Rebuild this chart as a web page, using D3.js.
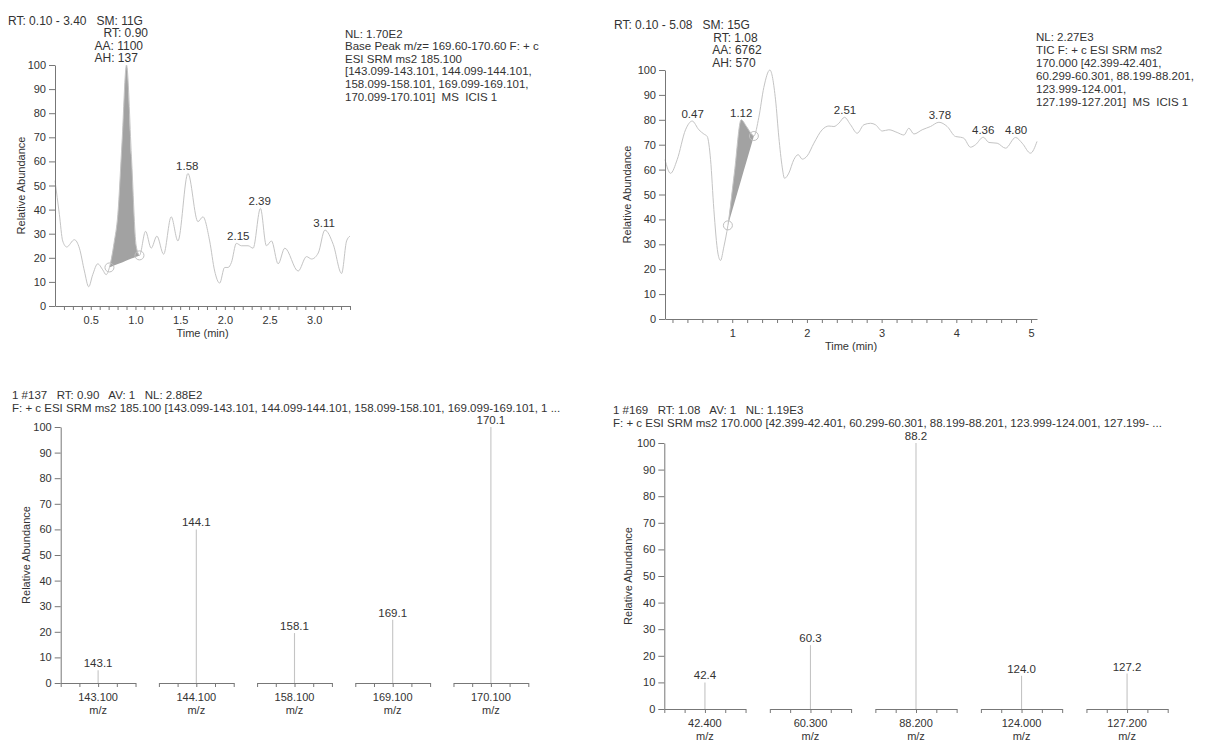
<!DOCTYPE html>
<html>
<head>
<meta charset="utf-8">
<script src="https://cdn.jsdelivr.net/npm/d3@7"></script>
<style>
  body { margin: 0; background: #fff; }
  svg { font-family: "Liberation Sans", Arial, sans-serif; }
  text { fill: #333; white-space: pre; font-size: 11.5px; }
  .axis text { font-size: 11px; fill: #333; font-family: "Liberation Sans", Arial, sans-serif; }
  .axis path, .axis line { stroke: #777; }
</style>
</head>
<body>
<svg id="fig" width="1211" height="742"></svg>
<script>
// ---- chromatogram A (top left) ----
const chromA_rt = [0.10,0.149,0.186,0.231,0.317,0.373,0.429,0.477,0.522,0.578,0.634,0.672,0.709,0.760,0.803,0.850,0.900,0.955,1.008,1.045,1.113,1.176,1.240,1.315,1.400,1.475,1.587,1.699,1.755,1.830,1.886,1.942,1.998,2.036,2.073,2.129,2.185,2.260,2.316,2.398,2.465,2.522,2.596,2.671,2.820,2.914,2.970,3.045,3.119,3.213,3.306,3.362,3.400]
const chromA_ab = [52,38,27,24.5,27.5,24,14.5,8,13,17.5,15,13,16,26,38,68,100,62,25,21,31,24,29,21.5,37,27,55,35,37,27,14.5,9.5,16,16,18,26,25,25,24,40.5,25,27,17.5,24,14.5,20.5,19.5,22,31.5,25.5,13.5,27,29]
const chromA_integ = [0.709, 1.045]
const chromA_peakRT = [1.58, 2.15, 2.39, 3.11]
const chromA_peakAb = [55, 26, 40.5, 31.5]
const chromA_header = 'RT: 0.10 - 3.40   SM: 11G'
const chromA_apex = ['RT: 0.90', 'AA: 1100', 'AH: 137']
const chromA_info = ['NL: 1.70E2', 'Base Peak m/z= 169.60-170.60 F: + c', 'ESI SRM ms2 185.100',
  '[143.099-143.101, 144.099-144.101,', '158.099-158.101, 169.099-169.101,', '170.099-170.101]  MS  ICIS 1']

// ---- chromatogram B (top right) ----
const chromB_rt = [0.10,0.174,0.263,0.375,0.464,0.553,0.620,0.665,0.710,0.754,0.808,0.843,0.888,0.942,1.030,1.120,1.191,1.267,1.290,1.356,1.423,1.504,1.580,1.624,1.669,1.700,1.758,1.825,1.883,1.937,2.004,2.093,2.204,2.294,2.361,2.427,2.503,2.584,2.673,2.762,2.852,2.918,3.008,3.097,3.208,3.298,3.365,3.432,3.543,3.654,3.767,3.878,3.989,4.056,4.101,4.190,4.257,4.360,4.436,4.547,4.659,4.793,4.882,4.993,5.080]
const chromB_ab = [64,58.5,64,76,79.5,76,74.3,73.3,64,44,26.5,23.5,29,37.6,59,80,77.3,74,73.5,81,93,100,88,73,61,56.5,58.6,64,66,64.2,65.5,70.6,76,77.5,77.3,78.6,81,78,74.6,78,78.6,78,75.5,76,74.9,73.9,76.6,74.3,76,77.3,79,77.3,73.3,73,72.6,69,70,73,70.9,70.6,68.6,72.9,70.6,66.6,71.3]
const chromB_integ = [0.942, 1.29]
const chromB_peakRT = [0.47, 1.12, 2.51, 3.78, 4.36, 4.80]
const chromB_peakAb = [79.5, 80, 81, 79, 73, 72.9]
const chromB_header = 'RT: 0.10 - 5.08   SM: 15G'
const chromB_apex = ['RT: 1.08', 'AA: 6762', 'AH: 570']
const chromB_info = ['NL: 2.27E3', 'TIC F: + c ESI SRM ms2', '170.000 [42.399-42.401,',
  '60.299-60.301, 88.199-88.201,', '123.999-124.001,', '127.199-127.201]  MS  ICIS 1']

// ---- spectrum A (bottom left) ----
const specA_mz = ['143.100', '144.100', '158.100', '169.100', '170.100']
const specA_label = ['143.1', '144.1', '158.1', '169.1', '170.1']
const specA_ab = [5, 60, 19.5, 24.7, 100]
const specA_title = ['1 #137   RT: 0.90   AV: 1   NL: 2.88E2',
  'F: + c ESI SRM ms2 185.100 [143.099-143.101, 144.099-144.101, 158.099-158.101, 169.099-169.101, 1 ...']

// ---- spectrum B (bottom right) ----
const specB_mz = ['42.400', '60.300', '88.200', '124.000', '127.200']
const specB_label = ['42.4', '60.3', '88.2', '124.0', '127.2']
const specB_ab = [10, 24, 100, 12.5, 13.3]
const specB_title = ['1 #169   RT: 1.08   AV: 1   NL: 1.19E3',
  'F: + c ESI SRM ms2 170.000 [42.399-42.401, 60.299-60.301, 88.199-88.201, 123.999-124.001, 127.199- ...']

const svg = d3.select('#fig')
const curveCol = '#c4c4c4'

function yLabel(g, x, y) {
  g.append('text').attr('transform', `translate(${x},${y}) rotate(-90)`)
    .attr('text-anchor', 'middle').attr('dy', '0.35em').style('font-size', '11px')
    .text('Relative Abundance')
}

function drawChrom(cfg) {
  const g = svg.append('g')
  const x = d3.scaleLinear().domain(cfg.domain).range([cfg.left, cfg.right])
  const y = d3.scaleLinear().domain([0, 100]).range([cfg.bottom, cfg.top])
  const pts = cfg.rt.map((t, i) => ({t: t, v: cfg.ab[i]}))

  // integrated peak, filled down to the straight baseline
  const pk = pts.filter(d => d.t >= cfg.integ[0] && d.t <= cfg.integ[1])
  const a = pk[0], b = pk[pk.length - 1]
  const base = t => a.v + (b.v - a.v) * (t - a.t) / (b.t - a.t)
  const area = d3.area().x(d => x(d.t)).y0(d => y(base(d.t))).y1(d => y(d.v)).curve(d3.curveMonotoneX)
  g.append('path').datum(pk).attr('d', area).attr('fill', '#a2a2a2')

  const line = d3.line().x(d => x(d.t)).y(d => y(d.v)).curve(d3.curveMonotoneX)
  g.append('path').datum(pts).attr('d', line).attr('fill', 'none').attr('stroke', curveCol).attr('stroke-width', 1)

  g.selectAll('circle.end').data([a, b]).enter().append('circle')
    .attr('cx', d => x(d.t)).attr('cy', d => y(d.v)).attr('r', 4.5)
    .attr('fill', 'none').attr('stroke', '#c0c0c0')

  // axes
  g.append('g').attr('class', 'axis').attr('transform', `translate(${cfg.left},0)`)
    .call(d3.axisLeft(y).tickValues(d3.range(0, 101, 10)).tickSize(6).tickSizeOuter(0).tickPadding(3))
  g.append('g').attr('class', 'axis').attr('transform', `translate(0,${cfg.bottom})`)
    .call(d3.axisBottom(x).tickValues(cfg.xTicks).tickSize(4).tickSizeOuter(0).tickPadding(6)
      .tickFormat(d => cfg.isMajor(d) ? cfg.fmt(d) : ''))
  g.selectAll('.axis').attr('font-family', null).attr('font-size', null)

  g.append('text').attr('x', (cfg.left + cfg.right) / 2).attr('y', cfg.bottom + 31)
    .attr('text-anchor', 'middle').style('font-size', '11px').text('Time (min)')
  yLabel(g, cfg.yLabelX, (cfg.top + cfg.bottom) / 2)

  // peak labels
  g.selectAll('text.pk').data(cfg.peakRT).enter().append('text')
    .attr('x', d => x(d)).attr('y', (d, i) => y(cfg.peakAb[i]) - 3)
    .attr('text-anchor', 'middle').text(d => d.toFixed(2))

  // header and apex annotation
  g.append('text').attr('x', cfg.headX).attr('y', cfg.headY).style('font-size', '12px').text(cfg.header)
  g.selectAll('text.apex').data(cfg.apex).enter().append('text')
    .attr('x', (d, i) => x(cfg.apexRT) + cfg.apexDx[i]).attr('y', (d, i) => cfg.headY + 12.5 * (i + 1))
    .style('font-size', '12px').text(d => d)
  g.selectAll('text.info').data(cfg.info).enter().append('text')
    .attr('x', cfg.infoX).attr('y', (d, i) => cfg.infoY + cfg.infoStep * i)
    .text(d => d)
}

function drawSpec(cfg) {
  const g = svg.append('g')
  const x = d3.scaleBand().domain(cfg.mz).range([cfg.left, cfg.right]).paddingInner(cfg.gap)
  const y = d3.scaleLinear().domain([0, 100]).range([cfg.bottom, cfg.top])
  const bw = x.bandwidth()

  g.append('g').attr('class', 'axis').attr('transform', `translate(${cfg.left},0)`)
    .call(d3.axisLeft(y).tickValues(d3.range(0, 101, 10)).tickSize(6).tickSizeOuter(0).tickPadding(3))

  // one short m/z axis per selected ion
  cfg.mz.forEach(m => {
    const seg = d3.scaleLinear().domain([0, 4]).range([x(m), x(m) + bw])
    g.append('g').attr('class', 'axis').attr('transform', `translate(0,${cfg.bottom})`)
      .call(d3.axisBottom(seg).tickValues([0, 1, 2, 3, 4]).tickSize(4).tickSizeOuter(0).tickFormat(''))
  })
  g.selectAll('.axis').attr('font-family', null).attr('font-size', null)

  g.selectAll('line.stick').data(cfg.mz).enter().append('line')
    .attr('x1', d => x(d) + bw / 2).attr('x2', d => x(d) + bw / 2)
    .attr('y1', y(0)).attr('y2', (d, i) => y(cfg.ab[i]))
    .attr('stroke', curveCol).attr('stroke-width', 1.1)

  g.selectAll('text.val').data(cfg.label).enter().append('text')
    .attr('x', (d, i) => x(cfg.mz[i]) + bw / 2).attr('y', (d, i) => y(cfg.ab[i]) - 3)
    .attr('text-anchor', 'middle').text(d => d)

  g.selectAll('text.mz').data(cfg.mz).enter().append('text')
    .attr('x', d => x(d) + bw / 2).attr('y', cfg.bottom + 18)
    .attr('text-anchor', 'middle').style('font-size', '11px').text(d => d)
  g.selectAll('text.unit').data(cfg.mz).enter().append('text')
    .attr('x', d => x(d) + bw / 2).attr('y', cfg.bottom + 31)
    .attr('text-anchor', 'middle').style('font-size', '11px').text('m/z')

  yLabel(g, cfg.yLabelX, (cfg.top + cfg.bottom) / 2)
  g.selectAll('text.title').data(cfg.title).enter().append('text')
    .attr('x', cfg.titleX).attr('y', (d, i) => cfg.titleY + 12.8 * i).text(d => d)
}

drawChrom({
  rt: chromA_rt, ab: chromA_ab, integ: chromA_integ, peakRT: chromA_peakRT, peakAb: chromA_peakAb,
  domain: [0.1, 3.4], left: 55, right: 350, top: 65, bottom: 306,
  xTicks: d3.range(2, 35).map(i => i / 10),
  isMajor: d => Math.abs(d * 2 - Math.round(d * 2)) < 1e-6, fmt: d3.format('.1f'),
  yLabelX: 21, header: chromA_header, headX: 8, headY: 24.5,
  apex: chromA_apex, apexRT: 0.9, apexDx: [-23, -32, -32],
  info: chromA_info, infoX: 345, infoY: 37.5, infoStep: 12.6
})

drawChrom({
  rt: chromB_rt, ab: chromB_ab, integ: chromB_integ, peakRT: chromB_peakRT, peakAb: chromB_peakAb,
  domain: [0.1, 5.08], left: 665, right: 1037, top: 70, bottom: 319,
  xTicks: d3.range(1, 26).map(i => i / 5),
  isMajor: d => Math.abs(d - Math.round(d)) < 1e-6, fmt: d3.format('d'),
  yLabelX: 627, header: chromB_header, headX: 614, headY: 29,
  apex: chromB_apex, apexRT: 1.08, apexDx: [-25, -26, -26],
  info: chromB_info, infoX: 1036, infoY: 40.5, infoStep: 13
})

drawSpec({
  mz: specA_mz, label: specA_label, ab: specA_ab, title: specA_title,
  left: 60.7, right: 528.3, top: 427, bottom: 683, gap: 0.238,
  yLabelX: 26, titleX: 12, titleY: 399
})

drawSpec({
  mz: specB_mz, label: specB_label, ab: specB_ab, title: specB_title,
  left: 664.3, right: 1167.7, top: 443, bottom: 709, gap: 0.23,
  yLabelX: 628, titleX: 613, titleY: 414
})
</script>
</body>
</html>
